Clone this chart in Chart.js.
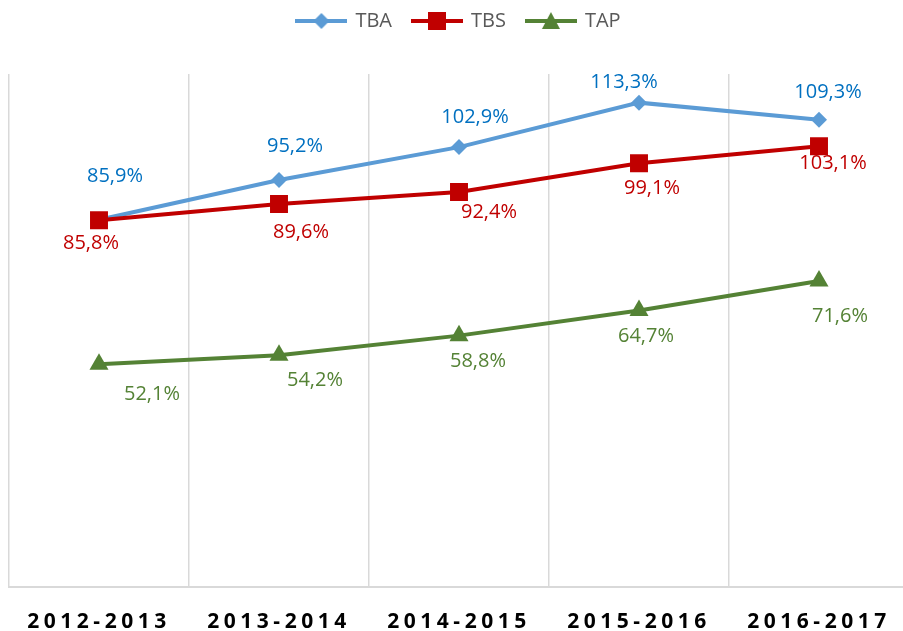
<!DOCTYPE html>
<html>
<head>
<meta charset="utf-8">
<script src="https://cdn.jsdelivr.net/npm/chart.js@4.4.1/dist/chart.umd.min.js"></script>
<style>
  html, body { margin: 0; padding: 0; background: #fff; overflow: hidden; }
  #wrap { width: 912px; height: 631px; }
</style>
</head>
<body>
<div id="wrap"><canvas id="chart" width="912" height="631"></canvas></div>
<script>
const years = ["2012-2013", "2013-2014", "2014-2015", "2015-2016", "2016-2017"];
const tba = [85.9, 95.2, 102.9, 113.3, 109.3];
const tbs = [85.8, 89.6, 92.4, 99.1, 103.1];
const tap = [52.1, 54.2, 58.8, 64.7, 71.6];

// label nudges (px) relative to each point, as Excel placed them
const tbaNudge = [[16, -43], [16, -34], [16, -30], [-15, -20], [9, -27]];
const tbsNudge = [[-8, 23], [22, 28], [30, 20], [13, 25], [14, 17]];
const tapNudge = [[53, 30], [36, 25], [19, 26], [7, 26], [21, 35]];

const FONT = "'Open Sans', 'DejaVu Sans', sans-serif";

const legendIcon = (color, shape) => {
    const c = document.createElement("canvas");
    c.width = 52;
    c.height = 20;
    const g = c.getContext("2d");
    g.strokeStyle = color;
    g.fillStyle = color;
    g.lineWidth = 4;
    g.beginPath();
    g.moveTo(0, 10);
    g.lineTo(52, 10);
    g.stroke();
    g.beginPath();
    if (shape === "diamond") {
        g.moveTo(26, 2); g.lineTo(34, 10); g.lineTo(26, 18); g.lineTo(18, 10);
    } else if (shape === "square") {
        g.rect(17, 1, 18, 18);
    } else {
        g.moveTo(26, 1); g.lineTo(35, 18); g.lineTo(17, 18);
    }
    g.closePath();
    g.fill();
    return c;
}

const series = [
    { label: "TBA", data: tba, line: "#5B9BD5", text: "#0070C0", style: "rectRot", radius: 8, nudge: tbaNudge, icon: legendIcon("#5B9BD5", "diamond") },
    { label: "TBS", data: tbs, line: "#C00000", text: "#C00000", style: "rect", radius: 12.7, nudge: tbsNudge, icon: legendIcon("#C00000", "square") },
    { label: "TAP", data: tap, line: "#548235", text: "#548235", style: "triangle", radius: 11, nudge: tapNudge, icon: legendIcon("#548235", "triangle") }
];

const fmt = v => v.toFixed(1).replace(".", ",") + "%";

const valueLabels = {
    id: "valueLabels",
    afterDatasetsDraw(chart) {
        const ctx = chart.ctx;
        ctx.save();
        ctx.font = `20px ${FONT}`;
        ctx.textAlign = "center";
        ctx.textBaseline = "middle";
        chart.data.datasets.forEach((ds, di) => {
            const meta = chart.getDatasetMeta(di);
            const s = series[di];
            ctx.fillStyle = s.text;
            meta.data.forEach((pt, i) => {
                const [dx, dy] = s.nudge[i];
                ctx.fillText(fmt(ds.data[i]), pt.x + dx, pt.y + dy);
            });
        });
        ctx.restore();
    }
};

// spaced-out category labels + a taller legend band like Excel's
const layoutTweaks = {
    id: "layoutTweaks",
    beforeLayout(chart) {
        const lg = chart.legend;
        if (lg && !lg._tweaked) {
            const fit = lg.fit.bind(lg);
            lg.fit = () => { fit(); lg.height = 74; };
            lg._tweaked = true;
        }
    },
    afterLayout(chart) {
        if (chart.legend) chart.legend.top -= 10;
    },
    beforeDraw(chart) {
        const scale = chart.scales.x;
        if (scale._spaced) return;
        const orig = scale.drawLabels.bind(scale);
        scale.drawLabels = area => {
            chart.ctx.save();
            chart.ctx.letterSpacing = "4.5px";
            orig(area);
            chart.ctx.restore();
        };
        scale._spaced = true;
    }
};

new Chart(document.getElementById("chart"), {
    type: "line",
    data: {
        labels: years,
        datasets: series.map((s, i) => ({
            label: s.label,
            data: s.data,
            order: series.length - i,
            borderColor: s.line,
            backgroundColor: s.line,
            borderWidth: 4,
            pointStyle: s.style,
            pointRadius: s.radius,
            pointHoverRadius: s.radius,
            pointBorderWidth: 0,
            tension: 0
        }))
    },
    options: {
        responsive: false,
        animation: false,
        layout: { autoPadding: false, padding: { left: 9, right: 3, top: 0, bottom: 0 } },
        plugins: {
            tooltip: { enabled: false },
            legend: {
                position: "top",
                labels: {
                    usePointStyle: true,
                    pointStyleWidth: 48,
                    padding: 21,
                    color: "#595959",
                    font: { family: FONT, size: 20 },
                    generateLabels: chart => series.map((s, i) => ({
                        text: s.label,
                        pointStyle: s.icon,
                        fillStyle: s.line,
                        strokeStyle: s.line,
                        lineWidth: 0,
                        fontColor: "#595959",
                        hidden: false,
                        datasetIndex: i
                    }))
                }
            }
        },
        scales: {
            x: {
                offset: true,
                grid: { offset: true, color: "#D9D9D9", lineWidth: 1.5, drawTicks: false },
                border: { color: "#D9D9D9", width: 2 },
                ticks: {
                    color: "#000",
                    padding: 22,
                    maxRotation: 0,
                    autoSkip: false,
                    font: { family: FONT, size: 21, weight: "bold" }
                },
                afterFit: s => {
                    s.height = 44;
                    s.paddingLeft = 0;
                    s.paddingRight = 0;
                }
            },
            y: {
                display: false,
                min: 0,
                max: 120
            }
        }
    },
    plugins: [valueLabels, layoutTweaks]
});
</script>
</body>
</html>
